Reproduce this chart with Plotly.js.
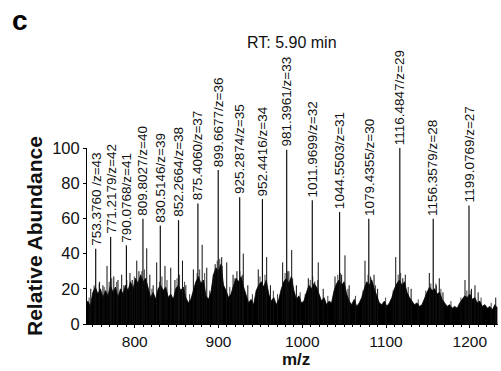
<!DOCTYPE html>
<html>
<head>
<meta charset="utf-8">
<script src="https://cdn.plot.ly/plotly-3.0.1.min.js"></script>
<style>html,body{margin:0;padding:0;background:#fff;}#chart{width:501px;height:371px;}</style>
</head>
<body>
<div id="chart"></div>
<script>
// Dense baseline envelope (m/z, relative abundance)
const envMz = [741,744,747,750,753,756,759,762,765,768,771,774,777,780,783,786,789,792,795,798,
801,804,807,810,813,816,819,822,825,828,831,834,837,840,843,846,849,852,855,858,
861,864,867,870,873,876,879,882,885,888,891,894,897,900,903,906,909,912,915,918,
921,924,927,930,933,936,939,942,945,948,951,954,957,960,963,966,969,972,975,978,
981,984,987,990,993,996,999,1002,1005,1008,1011,1014,1017,1020,1023,1026,1029,1032,1035,1038,
1041,1044,1047,1050,1053,1056,1059,1062,1065,1068,1071,1074,1077,1080,1083,1086,1089,1092,1095,1098,
1101,1104,1107,1110,1113,1116,1119,1122,1125,1128,1131,1134,1137,1140,1143,1146,1149,1152,1155,1158,
1161,1164,1167,1170,1173,1176,1179,1182,1185,1188,1191,1194,1197,1200,1203,1206,1209,1212,1215,1218,
1221,1224,1227,1230,1233];
const envInt = [11,13,10,18,21,17,20,15,19,16,22,18,21,15,20,17,22,19,24,20,
26,23,28,24,26,20,15,18,14,20,22,19,21,15,17,14,20,22,19,21,
15,12,14,19,24,27,23,25,16,14,18,28,32,30,34,22,19,15,17,22,
26,24,27,21,16,12,14,11,19,22,24,21,25,17,13,15,11,14,20,24,
26,23,27,19,14,16,12,13,18,22,20,23,21,17,13,15,11,13,12,19,
23,25,22,24,17,13,11,14,10,12,15,20,24,22,25,20,16,12,11,13,
10,12,15,20,23,25,22,24,18,15,13,11,12,10,11,15,18,21,19,20,
17,18,14,12,10,11,9,10,9,12,14,16,15,17,14,15,12,13,10,11,
9,10,8,11,9];

// Fine noise hairs above the envelope
const hairMz = [745.5,751.5,757.5,763.5,769.5,772.5,778.5,790.5,799.5,808.5,811.5,820.5,829.5,832.5,838.5,850.5,853.5,859.5,865.5,874.5,
877.5,883.5,889.5,898.5,901.5,904.5,913.5,919.5,925.5,928.5,940.5,949.5,955.5,965.5,970.5,979.5,982.5,988.5,997.5,1003.5,
1009.5,1012.5,1018.5,1030.5,1042.5,1045.5,1054.5,1063.5,1072.5,1078.5,1081.5,1087.5,1099.5,1108.5,1114.5,1117.5,1126.5,1138.5,1147.5,1153.5,
1159.5,1165.5,1177.5,1189.5,1196.5,1201.5,1213.5,1225.5];
const hairInt = [15,22,23,21,24,26,24,25,27,30,31,20,24,27,25,26,28,24,17,29,
31,29,19,36,37,33,21,26,30,28,17,27,28,19,17,29,30,26,18,17,
25,27,25,16,28,29,20,16,19,28,27,22,15,19,28,29,21,14,19,23,
23,20,13,15,19,19,15,12];

// Unlabelled secondary peaks
const spikeMz = [747.5,758,762,766.9,775,780,784.4,787,794.3,797,802.4,805,814.3,818,822,826.2,836.1,843,848,857,
861,870,880.5,886,893.8,896,903.8,909.8,917.4,922,929.6,935,947.5,957.5,962,976.6,984,987.4,993,1007.2,
1015,1019.1,1025,1039.1,1047,1051,1056,1074.9,1082,1085.7,1090,1111.6,1120,1123,1130,1151.7,1160,1163.6,1168,1194.3,
1202,1206.2,1210,1231];
const spikeInt = [20,24,22,33,27,25,28,22,29,25,36,30,43,28,22,35,33,32,25,36,
22,31,45,32,28,34,38,35,28,30,40,22,31,38,22,35,30,42,22,26,
24,35,20,27,28,39,22,36,26,28,20,38,26,28,20,29,22,26,18,25,
20,22,18,15];

// Labelled charge-state peaks
const peakMz = [753.3760,771.2179,790.0768,809.8027,830.5146,852.2664,875.4060,899.6677,925.2874,952.4416,
981.3961,1011.9699,1044.5503,1079.4355,1116.4847,1156.3579,1199.0769];
const peakInt = [42.8,49.4,44.7,59.8,56,59,68.5,87.5,72,71,99,70.3,63.6,59.8,100,59.8,67.4];
const peakLabels = ["753.3760 /z=43","771.2179/z=42","790.0768/z=41","809.8027/z=40","830.5146/z=39",
"852.2664/z=38","875.4060/z=37","899.6677/z=36","925.2874/z=35","952.4416/z=34","981.3961/z=33",
"1011.9699/z=32","1044.5503/z=31","1079.4355/z=30","1116.4847/z=29","1156.3579/z=28","1199.0769/z=27"];

function sticks(xs, ys){
  const x=[], y=[];
  for(let i=0;i<xs.length;i++){ x.push(xs[i],xs[i],null); y.push(0,ys[i],null); }
  return {x,y};
}
const hr = sticks(hairMz, hairInt);
const sp = sticks(spikeMz, spikeInt);
const pk = sticks(peakMz, peakInt);

const FONT = "Liberation Sans, Arial, Helvetica, sans-serif";
const ML = 87, MT = 148, MB = 47, PW = 411, PH = 371 - MT - MB;
const px = (x) => (x - ML) / PW;
const py = (y) => (371 - MB - y) / PH;

const traces = [
  {type:'scatter', mode:'lines', x:envMz, y:envInt, fill:'tozeroy', fillcolor:'#000',
   line:{color:'#000', width:0.8}, hoverinfo:'skip'},
  {type:'scatter', mode:'lines', x:hr.x, y:hr.y, line:{color:'#111', width:0.8}, hoverinfo:'skip'},
  {type:'scatter', mode:'lines', x:sp.x, y:sp.y, line:{color:'#111', width:1}, hoverinfo:'skip'},
  {type:'scatter', mode:'lines', x:pk.x, y:pk.y, line:{color:'#111', width:1.2}, hoverinfo:'skip'}
];

const annotations = peakMz.map((m,i)=>({
  x:m, y:peakInt[i], xref:'x', yref:'y', text:peakLabels[i], textangle:-90,
  showarrow:false, xanchor:'center', yanchor:'bottom', yshift:1,
  font:{family:FONT, size:13.5, color:'#111'}
}));
annotations.push({xref:'paper', yref:'paper', x:px(292), y:py(43), text:'RT: 5.90 min',
  showarrow:false, xanchor:'center', yanchor:'middle', font:{family:FONT, size:16, color:'#111'}});
annotations.push({xref:'paper', yref:'paper', x:px(20), y:py(20), text:'<b>c</b>',
  showarrow:false, xanchor:'center', yanchor:'middle', font:{family:FONT, size:28, color:'#000'}});
// x-axis title placed as text below the tick labels
annotations.push({xref:'paper', yref:'paper', x:px(296), y:py(359.5), text:'<b>m/z</b>',
  showarrow:false, xanchor:'center', yanchor:'middle', borderpad:0, font:{family:FONT, size:17, color:'#111'}});

const layout = {
  width:501, height:371,
  margin:{l:ML, r:3, t:MT, b:MB},
  paper_bgcolor:'#fff', plot_bgcolor:'#fff',
  showlegend:false, hovermode:false,
  xaxis:{range:[743,1233.7], dtick:100, tick0:0, showgrid:false, zeroline:false,
    showline:true, linecolor:'#000', linewidth:1, ticks:'outside', ticklen:3, tickcolor:'#000',
    minor:{dtick:10, ticks:'outside', ticklen:2, tickcolor:'#000'},
    tickfont:{family:FONT, size:15.5, color:'#111'}},
  yaxis:{range:[0,100], dtick:20, showgrid:false, zeroline:false,
    showline:true, linecolor:'#000', linewidth:1, ticks:'outside', ticklen:3, tickcolor:'#000',
    tickfont:{family:FONT, size:16.5, color:'#111'},
    title:{text:'<b>Relative Abundance</b>', font:{family:FONT, size:21, color:'#111'}, standoff:3}},
  annotations
};

Plotly.newPlot('chart', traces, layout, {displayModeBar:false, staticPlot:true});
</script>
</body>
</html>
